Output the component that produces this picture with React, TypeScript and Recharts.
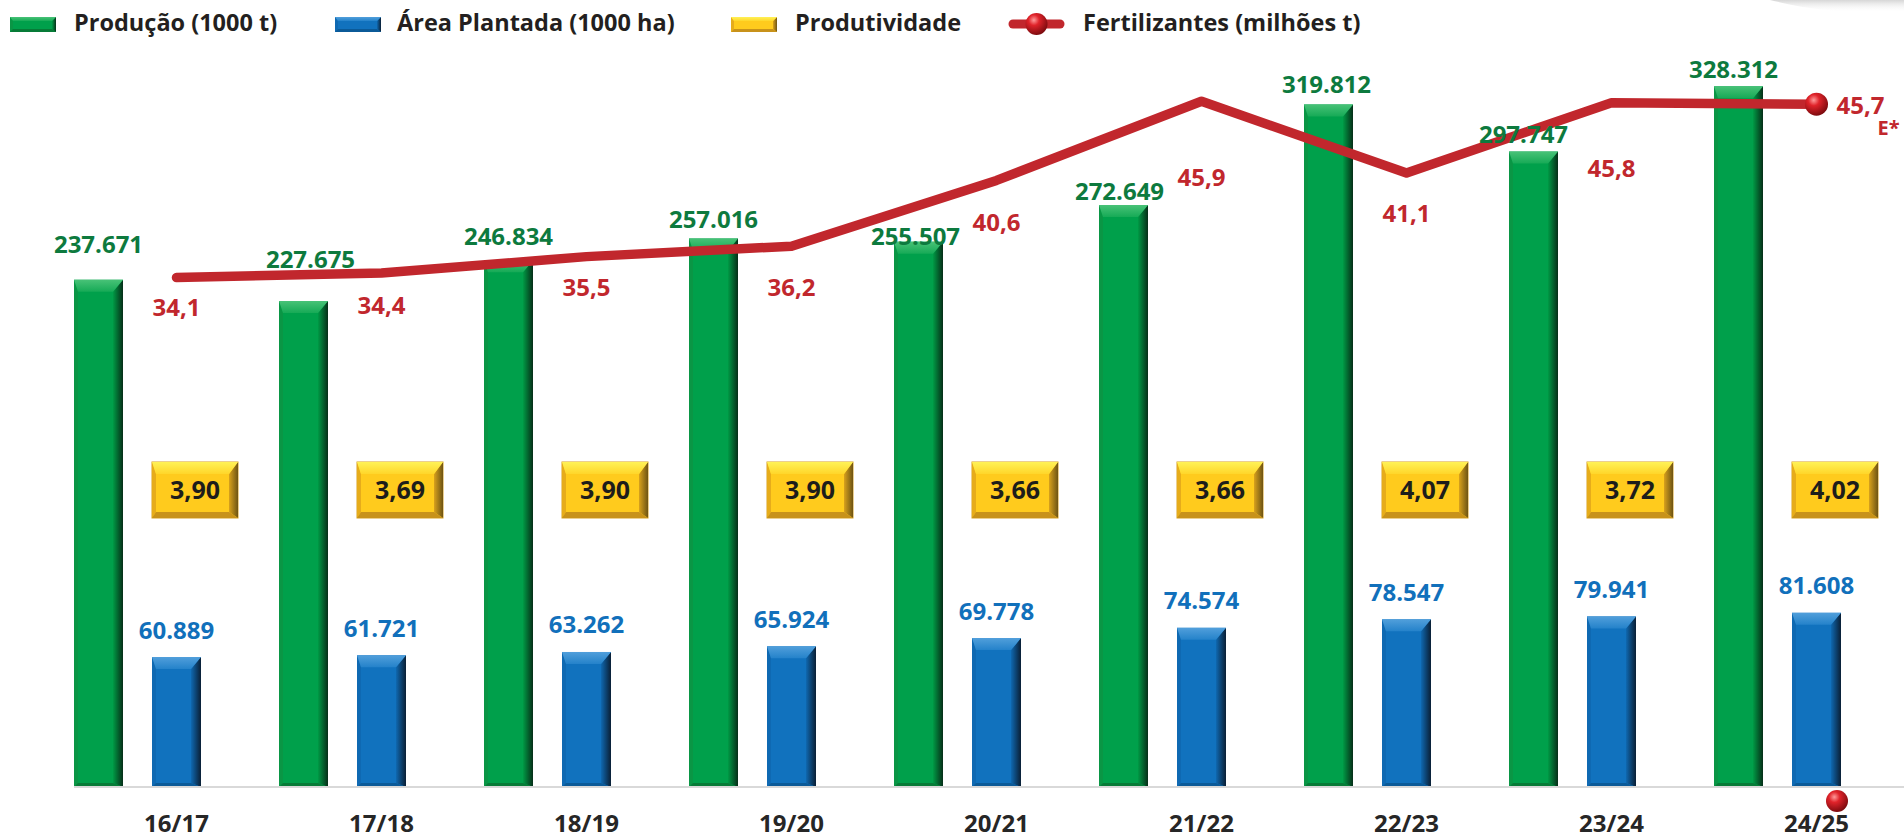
import React from 'react';
import { ComposedChart, Bar, Line, XAxis, YAxis, LabelList } from 'recharts';

const safras = ['16/17', '17/18', '18/19', '19/20', '20/21', '21/22', '22/23', '23/24', '24/25'];
const producao = [237.671, 227.675, 246.834, 257.016, 255.507, 272.649, 319.812, 297.747, 328.312];
const area = [60.889, 61.721, 63.262, 65.924, 69.778, 74.574, 78.547, 79.941, 81.608];
const produtividade = [3.9, 3.69, 3.9, 3.9, 3.66, 3.66, 4.07, 3.72, 4.02];
const fertilizantes = [34.1, 34.4, 35.5, 36.2, 40.6, 45.9, 41.1, 45.8, 45.7];

// hand placed label nudges, like in the original slide
const prodLabelLift = [35, 42, 24, 19, 5, 14, 20, 17, 17];
const prodLabelShift = [0, 7, 0, 0, -3, -4, -2, -10, -5];
const fertLabelDrop = [30, 32, 31, 41, 42, 76, 41, 66, 0];

const data = safras.map((safra, i) => ({
  safra,
  producao: producao[i],
  area: area[i],
  produtividade: produtividade[i],
  fertilizantes: fertilizantes[i],
  espaco: 0,
}));

const FONT = '"Open Sans", sans-serif';

const green = { id: 'gr', main: '#00a04b', left: '#0a9645', bottom: '#077b37', top: ['#48c277', '#16aa56'], right: ['#009a45', '#062e18'] };
const blue = { id: 'bl', main: '#1172be', left: '#0f69b2', bottom: '#0b5a98', top: ['#519fdb', '#2482ca'], right: ['#0f68b0', '#0a1f35'] };
const yellow = { id: 'ye', main: '#ffcb1d', left: '#e6ac1b', bottom: '#c8921a', top: ['#fff257', '#ffd62a'], right: ['#d9a21c', '#6e5414'] };

function Gradients() {
  return (
    <defs>
      {[green, blue, yellow].map((p) => (
        <React.Fragment key={p.id}>
          <linearGradient id={p.id + 'T'} x1="0" y1="0" x2="0" y2="1">
            <stop offset="0" stopColor={p.top[0]} />
            <stop offset="1" stopColor={p.top[1]} />
          </linearGradient>
          <linearGradient id={p.id + 'R'} x1="0" y1="0" x2="1" y2="0">
            <stop offset="0" stopColor={p.right[0]} />
            <stop offset="1" stopColor={p.right[1]} />
          </linearGradient>
        </React.Fragment>
      ))}
      <radialGradient id="sphere" cx="0.38" cy="0.32" r="0.7">
        <stop offset="0" stopColor="#ff9a9a" />
        <stop offset="0.35" stopColor="#e0232a" />
        <stop offset="1" stopColor="#7a0a0e" />
      </radialGradient>
      <linearGradient id="swoosh" x1="0" y1="0" x2="0" y2="1">
        <stop offset="0" stopColor="#d6d6d6" />
        <stop offset="1" stopColor="#ffffff" stopOpacity="0" />
      </linearGradient>
    </defs>
  );
}

function Bevel({ x, y, w, h, pal, t, r, l, b, stroke }: any) {
  if (!(w > 0 && h > 0)) return null;
  const X2 = x + w;
  const Y2 = y + h;
  return (
    <g>
      <rect x={x} y={y} width={w} height={h} fill={pal.main} stroke={stroke} strokeWidth={stroke ? 1 : 0} />
      <polygon points={`${x},${y} ${x + l},${y + t} ${x + l},${Y2 - b} ${x},${Y2}`} fill={pal.left} />
      <polygon points={`${X2},${y} ${X2},${Y2} ${X2 - r},${Y2 - b} ${X2 - r},${y + t}`} fill={`url(#${pal.id}R)`} />
      <polygon points={`${x},${Y2} ${x + l},${Y2 - b} ${X2 - r},${Y2 - b} ${X2},${Y2}`} fill={pal.bottom} />
      <polygon points={`${x},${y} ${X2},${y} ${X2 - r},${y + t} ${x + l},${y + t}`} fill={`url(#${pal.id}T)`} />
    </g>
  );
}

const box = (p: any) => {
  const v = p.viewBox || {};
  return { x: p.x ?? v.x, y: p.y ?? v.y, w: p.width ?? v.width, h: p.height ?? v.height };
};

const GreenBar = (p: any) => <Bevel x={p.x} y={p.y} w={p.width} h={p.height} pal={green} t={12} r={10} l={4} b={4} />;
const BlueBar = (p: any) => <Bevel x={p.x} y={p.y} w={p.width} h={p.height} pal={blue} t={12} r={10} l={4} b={4} />;

const ProdLabel = (p: any) => {
  const { x, y, w } = box(p);
  const i = p.index ?? producao.indexOf(p.value);
  return (
    <text x={x + w / 2 + prodLabelShift[i]} y={y - prodLabelLift[i] + 8.5} textAnchor="middle"
      fontFamily={FONT} fontWeight={700} fontSize={24} fill="#0d7a3e">
      {Number(p.value).toFixed(3)}
    </text>
  );
};

const AreaLabel = (p: any) => {
  const { x, y, w } = box(p);
  return (
    <text x={x + w / 2} y={y - 27 + 8.5} textAnchor="middle" fontFamily={FONT} fontWeight={700} fontSize={24} fill="#1170bb">
      {Number(p.value).toFixed(3)}
    </text>
  );
};

const ProdutividadeBox = (p: any) => {
  const { x } = box(p);
  const top = 462;
  return (
    <g>
      <Bevel x={x} y={top} w={86} h={56} pal={yellow} t={12} r={9} l={4} b={6} stroke="#d7a020" />
      <text x={x + 43} y={top + 28 + 9} textAnchor="middle" fontFamily={FONT} fontWeight={700} fontSize={25} fill="#1d1d1b">
        {Number(p.value).toFixed(2).replace('.', ',')}
      </text>
    </g>
  );
};

const FertLabel = (p: any) => {
  const { x, y } = box(p);
  const i = p.index ?? fertilizantes.indexOf(p.value);
  const last = i === safras.length - 1;
  const txt = Number(p.value).toFixed(1).replace('.', ',');
  if (last) {
    return (
      <g fontFamily={FONT} fontWeight={700} fill="#c1272d">
        <text x={x + 20} y={y + 10} fontSize={24}>{txt}</text>
        <text x={x + 61} y={y + 31} fontSize={20}>E*</text>
      </g>
    );
  }
  return (
    <text x={x} y={y + fertLabelDrop[i] + 8.5} textAnchor="middle" fontFamily={FONT} fontWeight={700} fontSize={24} fill="#c1272d">
      {txt}
    </text>
  );
};

const legendText: React.CSSProperties = {
  position: 'absolute', top: 6, fontFamily: FONT, fontWeight: 700, fontSize: 23.5,
  color: '#231f20', whiteSpace: 'nowrap', lineHeight: '32px',
};

function LegendIcon({ left, pal }: any) {
  return (
    <svg style={{ position: 'absolute', left, top: 17 }} width={48} height={16}>
      <Bevel x={0} y={0} w={46} h={15} pal={pal} t={4} r={4} l={3} b={3} />
    </svg>
  );
}

export default function App() {
  const last = safras.length - 1;
  return (
    <div style={{ position: 'absolute', left: 0, top: 0, width: 1904, height: 838, overflow: 'hidden', background: '#fff' }}>
      <svg style={{ position: 'absolute', left: 0, top: 0 }} width={1904} height={838}>
        <path d="M1770,0 C1810,10 1850,14 1904,12 L1904,0 Z" fill="url(#swoosh)" />
      </svg>
      <LegendIcon left={10} pal={green} />
      <div style={{ ...legendText, left: 74 }}>Produção (1000 t)</div>
      <LegendIcon left={335} pal={blue} />
      <div style={{ ...legendText, left: 397 }}>Área Plantada (1000 ha)</div>
      <LegendIcon left={731} pal={yellow} />
      <div style={{ ...legendText, left: 795 }}>Produtividade</div>
      <svg style={{ position: 'absolute', left: 1003, top: 11 }} width={68} height={28}>
        <line x1={10} y1={13} x2={57} y2={13} stroke="#c1272d" strokeWidth={9} strokeLinecap="round" />
        <circle cx={33.5} cy={13} r={11} fill="url(#sphere)" />
      </svg>
      <div style={{ ...legendText, left: 1083 }}>Fertilizantes (milhões t)</div>

      <div style={{ position: 'absolute', left: 0, top: 0 }}>
        <ComposedChart width={1919} height={838} data={data} barCategoryGap={0} barGap={29}
          margin={{ top: 40, right: 0, bottom: 0, left: 74 }}>
          <Gradients />
          <XAxis dataKey="safra" height={51} tickLine={false} tickSize={0} tickMargin={28}
            axisLine={{ stroke: '#d9d9d9', strokeWidth: 2 }}
            tick={{ fontSize: 24, fontWeight: 700, fill: '#262626', fontFamily: FONT }} interval={0} />
          <YAxis yAxisId="left" hide domain={[0, 350]} />
          <YAxis yAxisId="right" hide domain={[0, 50]} orientation="right" />
          <Bar yAxisId="left" dataKey="producao" shape={GreenBar} isAnimationActive={false}>
            <LabelList dataKey="producao" content={ProdLabel} />
          </Bar>
          <Bar yAxisId="left" dataKey="area" shape={BlueBar} isAnimationActive={false}>
            <LabelList dataKey="area" content={AreaLabel} />
            <LabelList dataKey="produtividade" content={ProdutividadeBox} />
          </Bar>
          <Bar yAxisId="left" dataKey="espaco" fill="none" isAnimationActive={false} />
          <Line yAxisId="right" type="linear" dataKey="fertilizantes" stroke="#c1272d" strokeWidth={9.5}
            strokeLinecap="round" strokeLinejoin="round" isAnimationActive={false}
            dot={(p: any) => p.index === last
              ? <circle key="end" cx={p.cx} cy={p.cy} r={11.5} fill="url(#sphere)" />
              : <g key={'d' + p.index} />}
            activeDot={false}>
            <LabelList dataKey="fertilizantes" content={FertLabel} />
          </Line>
        </ComposedChart>
      </div>
      <svg style={{ position: 'absolute', left: 0, top: 0, pointerEvents: 'none' }} width={1904} height={838}>
        <circle cx={1837} cy={801} r={11} fill="url(#sphere)" />
      </svg>
    </div>
  );
}
